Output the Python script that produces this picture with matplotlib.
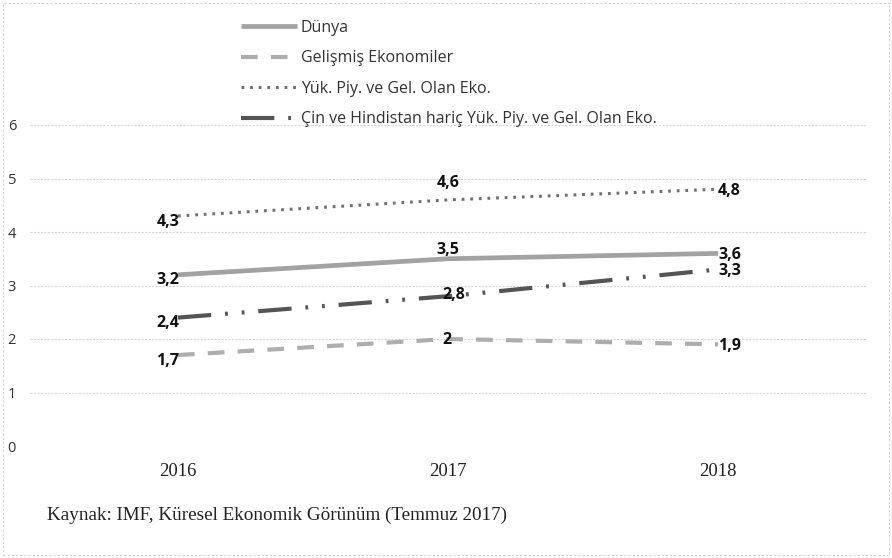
import matplotlib
matplotlib.use("Agg")
import matplotlib.pyplot as plt
from matplotlib.patches import Rectangle

plt.rcParams['lines.scale_dashes'] = False

years = ["2016", "2017", "2018"]
series_names = ["Dünya", "Gelişmiş Ekonomiler", "Yük. Piy. ve Gel. Olan Eko.",
                "Çin ve Hindistan hariç Yük. Piy. ve Gel. Olan Eko."]
dunya = [3.2, 3.5, 3.6]
gelismis = [1.7, 2.0, 1.9]
yuk_piy = [4.3, 4.6, 4.8]
cin_haric = [2.4, 2.8, 3.3]
yticks = [0, 1, 2, 3, 4, 5, 6]
source = "Kaynak: IMF, Küresel Ekonomik Görünüm (Temmuz 2017)"

W, H = 892, 558
fig = plt.figure(figsize=(W / 100, H / 100), dpi=100)
ax = fig.add_axes([30 / W, (H - 446) / H, (866 - 30) / W, (446 - 125) / H])

x = list(range(len(years)))
sans = "Open Sans"
serif = "Liberation Serif"

styles = [
    dict(color="#a2a2a2", lw=3.4, ls="-", solid_capstyle="butt"),
    dict(color="#adadad", lw=3.0, ls=(0, (12, 9.5)), dash_capstyle="butt"),
    dict(color="#707070", lw=2.2, ls=(0, (2.0, 4.2)), dash_capstyle="butt"),
    dict(color="#555555", lw=3.0, ls=(0, (24, 10, 2, 10, 2, 10)), dash_capstyle="butt"),
]
data = [dunya, gelismis, yuk_piy, cin_haric]
lines = []
for name, vals, st in zip(series_names, data, styles):
    ln, = ax.plot(x, vals, label=name, zorder=3, **st)
    lines.append(ln)

def fmt(v):
    s = ("%.1f" % v).rstrip("0").rstrip(".")
    return s.replace(".", ",")

lab_kw = dict(fontsize=11.5, fontweight="bold", family=sans, color="#111111", zorder=5)
for vals in data:
    ax.annotate(fmt(vals[0]), (x[0], vals[0]), xytext=(1, -4), textcoords="offset points",
                ha="right", va="center", **lab_kw)
    ax.annotate(fmt(vals[2]), (x[2], vals[2]), xytext=(0, -1), textcoords="offset points",
                ha="left", va="center", **lab_kw)
ax.annotate(fmt(dunya[1]), (x[1], dunya[1]), xytext=(0, 6), textcoords="offset points",
            ha="center", va="center", **lab_kw)
ax.annotate(fmt(yuk_piy[1]), (x[1], yuk_piy[1]), xytext=(0, 12), textcoords="offset points",
            ha="center", va="center", **lab_kw)
ax.annotate(fmt(cin_haric[1]), (x[1], cin_haric[1]), xytext=(4, 1), textcoords="offset points",
            ha="center", va="center", **lab_kw)
ax.annotate(fmt(gelismis[1]), (x[1], gelismis[1]), xytext=(-1, -1), textcoords="offset points",
            ha="center", va="center", **lab_kw)

ax.set_xlim(-0.548, 2.548)
ax.set_ylim(0, 6)
ax.set_yticks(yticks)
ax.set_yticklabels([str(t) for t in yticks], family=sans, fontsize=10.5, color="#333333")
ax.set_xticks(x)
ax.set_xticklabels(years, family=serif, fontsize=13.5, color="#222222")
ax.tick_params(axis="both", length=0)
ax.tick_params(axis="y", pad=10)
ax.tick_params(axis="x", pad=12)
for sp in ax.spines.values():
    sp.set_visible(False)
ax.grid(axis="y", color="#d4d4d4", lw=0.8, ls=(0, (1.5, 1)))
ax.set_axisbelow(True)

leg = fig.legend(handles=lines, loc="upper left", bbox_to_anchor=(241 / W, 1 - 20 / H),
                 frameon=False, prop={"family": sans, "size": 11.5},
                 handlelength=3.5, handletextpad=0.25, labelspacing=0.9,
                 borderpad=0, borderaxespad=0)
for t in leg.get_texts():
    t.set_color("#333333")

fig.text(47 / W, 1 - 515 / H, source, family=serif, fontsize=13.8, color="#222222",
         ha="left", va="center")

fig.patches.append(Rectangle((3 / W, 3 / H), 1 - 6 / W, 1 - 6 / H, transform=fig.transFigure,
                             fill=False, ec="#cfcfcf", lw=0.7, ls=(0, (1.5, 1.5))))

fig.savefig("out.png", dpi=100)
